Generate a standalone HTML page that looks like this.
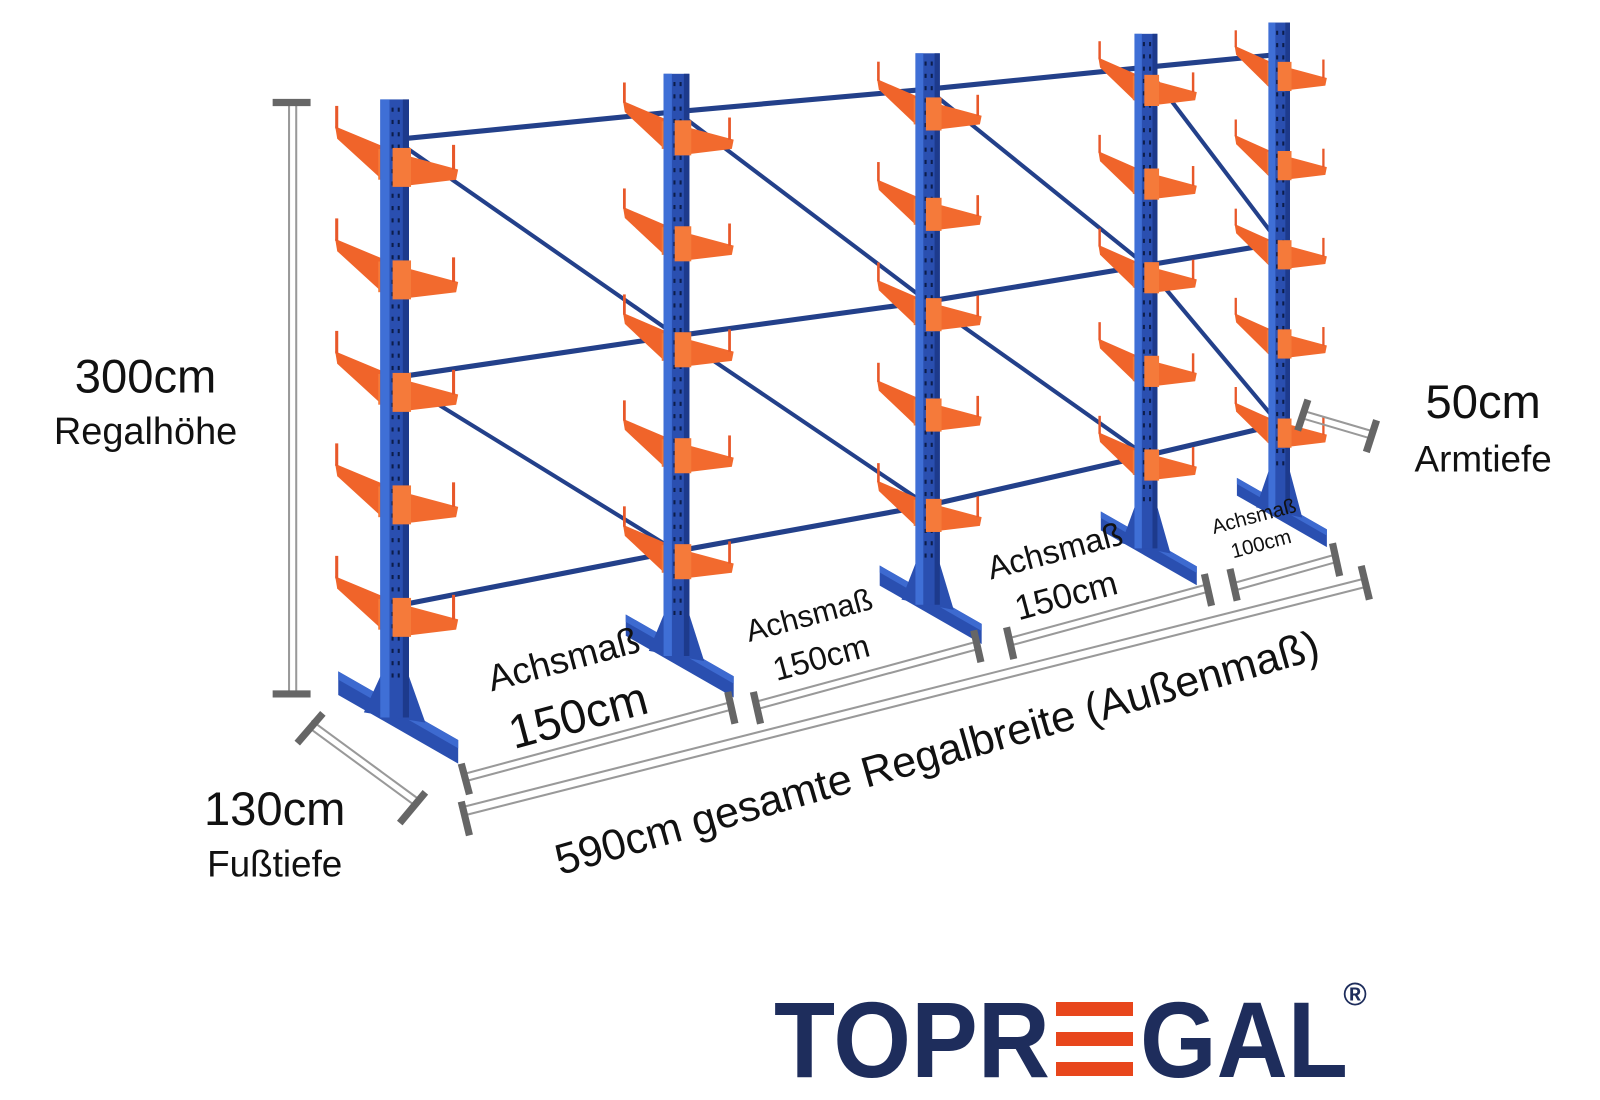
<!DOCTYPE html>
<html><head><meta charset="utf-8"><style>
html,body{margin:0;padding:0;background:#fff;}
svg{display:block}
text{font-family:"Liberation Sans",sans-serif;fill:#111}
</style></head><body>
<svg id="s" width="1600" height="1100" viewBox="0 0 1600 1100" xmlns="http://www.w3.org/2000/svg">
<g transform="scale(1.025)">
<g id="rack"></g>
<g stroke="#999" stroke-width="2" fill="none">
 <line x1="282" y1="100" x2="282" y2="677"/><line x1="289" y1="100" x2="289" y2="677"/>
 <line x1="300" y1="709" x2="405" y2="786"/><line x1="304" y1="703" x2="409" y2="780"/>
 <line x1="455" y1="795" x2="1335" y2="572"/><line x1="453" y1="787" x2="1333" y2="564"/>
 <line x1="455" y1="762" x2="715" y2="692"/><line x1="453" y1="755" x2="713" y2="685"/>
 <line x1="738" y1="692" x2="955" y2="633"/><line x1="736" y1="685" x2="953" y2="626"/>
 <line x1="985" y1="630" x2="1180" y2="577"/><line x1="983" y1="623" x2="1178" y2="570"/>
 <line x1="1205" y1="576" x2="1305" y2="548"/><line x1="1203" y1="569" x2="1303" y2="541"/>
 <line x1="1270" y1="408" x2="1338" y2="428"/><line x1="1272" y1="401" x2="1340" y2="421"/>
</g>
<g stroke="#666" stroke-width="7" stroke-linecap="butt">
 <line x1="266" y1="100" x2="303" y2="100"/><line x1="266" y1="677" x2="303" y2="677"/>
 <line x1="290" y1="725" x2="315" y2="696"/><line x1="390" y1="803" x2="415" y2="773"/>
 <line x1="450" y1="745" x2="458" y2="775"/><line x1="450" y1="782" x2="458" y2="815"/>
 <line x1="710" y1="675" x2="717" y2="706"/><line x1="735" y1="675" x2="742" y2="706"/>
 <line x1="950" y1="615" x2="957" y2="646"/><line x1="982" y1="612" x2="989" y2="643"/>
 <line x1="1175" y1="560" x2="1182" y2="591"/><line x1="1200" y1="555" x2="1207" y2="586"/>
 <line x1="1300" y1="530" x2="1307" y2="562"/><line x1="1328" y1="552" x2="1336" y2="585"/>
 <line x1="1266" y1="420" x2="1276" y2="390"/><line x1="1333" y1="441" x2="1343" y2="410"/>
</g>
<text x="142" y="383" font-size="46" text-anchor="middle">300cm</text>
<text x="142" y="433" font-size="37" text-anchor="middle">Regalhöhe</text>
<text x="1447" y="408" font-size="46" text-anchor="middle">50cm</text>
<text x="1447" y="460" font-size="36" text-anchor="middle">Armtiefe</text>
<text x="268" y="805" font-size="46" text-anchor="middle">130cm</text>
<text x="268" y="855" font-size="36" text-anchor="middle">Fußtiefe</text>
<g transform="translate(553,655) rotate(-15)"><text font-size="36" text-anchor="middle">Achsmaß</text></g>
<g transform="translate(568,713) rotate(-15)"><text font-size="46" text-anchor="middle">150cm</text></g>
<g transform="translate(792,610) rotate(-15)"><text font-size="30" text-anchor="middle">Achsmaß</text></g>
<g transform="translate(804,652) rotate(-15)"><text font-size="32" text-anchor="middle">150cm</text></g>
<g transform="translate(1032,548) rotate(-15)"><text font-size="32" text-anchor="middle">Achsmaß</text></g>
<g transform="translate(1043,592) rotate(-15)"><text font-size="34" text-anchor="middle">150cm</text></g>
<g transform="translate(1225,510) rotate(-15)"><text font-size="20" text-anchor="middle">Achsmaß</text></g>
<g transform="translate(1232,537) rotate(-15)"><text font-size="20" text-anchor="middle">100cm</text></g>
<g transform="translate(918,748) rotate(-15.9)"><text font-size="42" text-anchor="middle">590cm gesamte Regalbreite (Außenmaß)</text></g>
</g>
<text x="774" y="1077" font-size="108" font-weight="bold" style="fill:#1e2d5c" textLength="276" lengthAdjust="spacingAndGlyphs">TOPR</text>
<g fill="#e8461c"><rect x="1056" y="1002" width="77" height="14"/><rect x="1056" y="1032" width="77" height="14"/><rect x="1056" y="1062" width="77" height="14"/></g>
<text x="1140" y="1077" font-size="108" font-weight="bold" style="fill:#1e2d5c" textLength="208" lengthAdjust="spacingAndGlyphs">GAL</text>
<text x="1355" y="1005" font-size="32" font-weight="bold" style="fill:#1e2d5c" text-anchor="middle">®</text>
</svg>
<script>
const NS="http://www.w3.org/2000/svg",g=document.getElementById('rack');
function el(t,a){const e=document.createElementNS(NS,t);for(const k in a)e.setAttribute(k,a[k]);g.appendChild(e);return e;}
const C=[[385,97,700,1],[660,72,640,.9],[905,52,590,.85],[1118,33,535,.8],[1248,22,500,.75]];
const lv=(c,f)=>c[1]+f*(c[2]-c[1]);
const F=[.065,.45,.82];
for(let i=0;i<4;i++){const a=C[i],b=C[i+1];
 F.forEach(f=>el('line',{x1:a[0],y1:lv(a,f),x2:b[0],y2:lv(b,f),stroke:'#23408a','stroke-width':5}));
 el('line',{x1:a[0],y1:lv(a,F[0]),x2:b[0],y2:lv(b,F[1]),stroke:'#23408a','stroke-width':4});
 el('line',{x1:a[0],y1:lv(a,F[1]),x2:b[0],y2:lv(b,F[2]),stroke:'#23408a','stroke-width':4});
}
for(let k=4;k>=0;k--){const [x,t,b,s]=C[k];const h=b-t;
 const yb=b;
 el('polygon',{points:`${x-55*s},${yb-45*s} ${x+62*s},${yb+22*s} ${x+62*s},${yb+45*s} ${x-55*s},${yb-22*s}`,fill:'#2a4fb0'});
 el('polygon',{points:`${x-55*s},${yb-45*s} ${x+62*s},${yb+22*s} ${x+62*s},${yb+30*s} ${x-55*s},${yb-37*s}`,fill:'#3d6ad0'});
 el('polygon',{points:`${x-14*s},${yb-40} ${x+14*s},${yb-40} ${x+30*s},${yb+5} ${x-30*s},${yb-5}`,fill:'#2a4fb0'});
 const arms=[];for(let i=0;i<5;i++)arms.push(t+.11*h+i*.182*h);
 arms.forEach(y=>{
  el('polygon',{points:`${x-10},${y-20*s} ${x-58*s},${y-40*s} ${x-56*s},${y-28*s} ${x-10},${y+14*s}`,fill:'#f0642a'});
  el('rect',{x:x-58*s,y:y-60*s,width:3*s,height:22*s,fill:'#e8582a'});
  el('rect',{x:x-16*s,y:y-18*s,width:6*s,height:30*s,fill:'#f57a3a'});});
 el('rect',{x:x-14*s,y:t,width:28*s,height:h,fill:'#2a4fb0'});
 el('rect',{x:x-14*s,y:t,width:9*s,height:h,fill:'#3f6fd6'});
 el('rect',{x:x+8*s,y:t,width:6*s,height:h,fill:'#1d3a8c'});
 for(let yy=t+8;yy<b-40;yy+=12){el('rect',{x:x-3,y:yy,width:2,height:4,fill:'#0c1d4a'});el('rect',{x:x+3,y:yy,width:2,height:4,fill:'#0c1d4a'});}
 arms.forEach(y=>{
  el('polygon',{points:`${x+10*s},${y-12*s} ${x+62*s},${y+2*s} ${x+60*s},${y+12*s} ${x+10*s},${y+18*s}`,fill:'#f26a2e'});
  el('rect',{x:x-2*s,y:y-19*s,width:18*s,height:38*s,fill:'#f57a3a'});
  el('rect',{x:x+26*s,y:y-22*s,width:3*s,height:24*s,fill:'#e8582a','transform':`translate(${30*s},0)`});});
}
</script>
</body></html>
